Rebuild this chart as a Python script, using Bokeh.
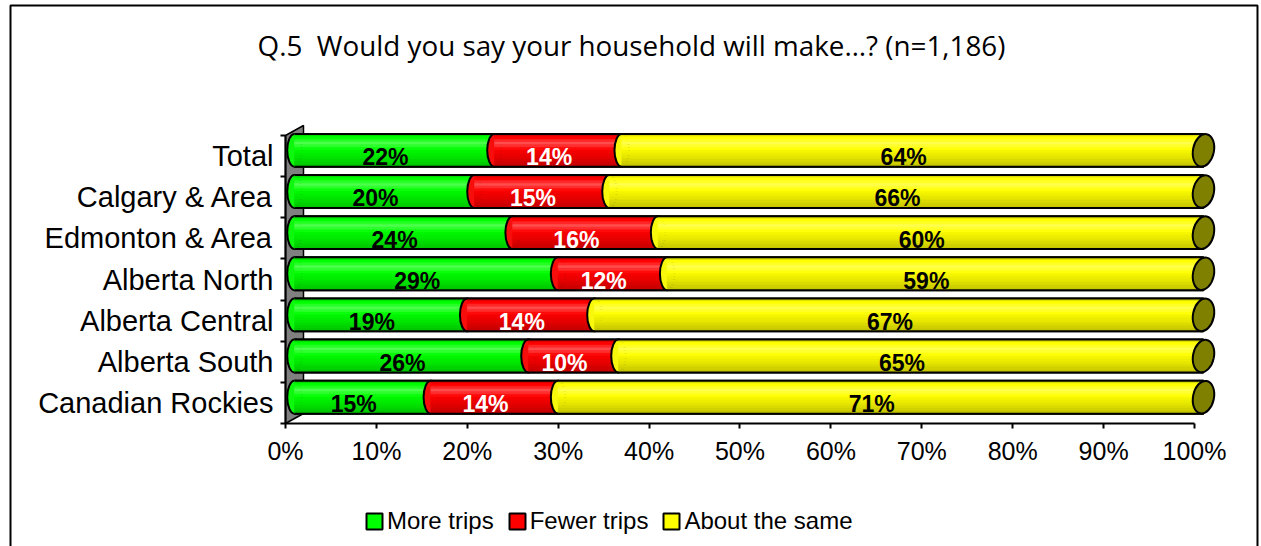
import numpy as np
from bokeh.plotting import figure
from bokeh.models import (ColumnDataSource, Range1d, FixedTicker, Legend, LegendItem,
                          Label, BoxAnnotation)
from bokeh.core.properties import value
from bokeh.embed import file_html
from bokeh.resources import INLINE

# ---------------- data ----------------
categories = ["Total", "Calgary & Area", "Edmonton & Area", "Alberta North",
              "Alberta Central", "Alberta South", "Canadian Rockies"]
more_trips = [22, 20, 24, 29, 19, 26, 15]
fewer_trips = [14, 15, 16, 12, 14, 10, 14]
about_same = [64, 66, 60, 59, 67, 65, 71]
series_names = ["More trips", "Fewer trips", "About the same"]
x_ticks = [0, 10, 20, 30, 40, 50, 60, 70, 80, 90, 100]
x_tick_labels = ["0%", "10%", "20%", "30%", "40%", "50%", "60%", "70%", "80%", "90%", "100%"]
title_text = "Q.5\u00a0 Would you say your household will make\u2026? (n=1,186)"

# ---------------- style ----------------
FONT = "Liberation Sans"
TITLE_FONT = "Open Sans"
colors = ["#00FF00", "#FF0000", "#FFFF00"]
label_colors = ["black", "white", "black"]
cap_color = "#808000"
wall_color = "#808080"

n = len(categories)
vals = np.array([more_trips, fewer_trips, about_same], dtype=float).T
share = vals / vals.sum(axis=1, keepdims=True) * 100.0
right_edges = np.cumsum(share, axis=1)
left_edges = right_edges - share
ypos = np.arange(n)[::-1] + 0.5          # Total on top

DX, DY = 1.98, 0.243                     # 3-D depth (data units)
BAR_H = 0.8
BX, BY = DX / 2, 0.14                    # bar offset inside the depth
ELL_W = 1.6

# the plot frame covers the whole canvas; axes are pinned at 0
p = figure(width=1261, height=546, output_backend="svg", toolbar_location=None,
           title=None, x_range=Range1d(-31.353, 107.371), y_range=Range1d(-2.9898, 10.282),
           min_border=0, min_border_left=0, min_border_right=0, min_border_top=0,
           min_border_bottom=0)
p.background_fill_color = "white"
p.border_fill_color = "white"
p.outline_line_color = None
p.xgrid.visible = False
p.ygrid.visible = False

# outer chart border
p.add_layout(BoxAnnotation(left=-30.253, right=106.93, top=10.16, bottom=-4.0,
                           fill_alpha=0, line_color="black", line_alpha=1.0, line_width=2))

# wall
p.patch(x=[x_ticks[0], x_ticks[0], DX, DX], y=[0, n, n + DY, DY],
        fill_color=wall_color, line_color="black", line_width=1.5)

# axis lines
p.segment(x0=[x_ticks[0]], y0=[0], x1=[x_ticks[-1]], y1=[0], line_color="black", line_width=2)
p.segment(x0=[x_ticks[0]], y0=[0], x1=[x_ticks[0]], y1=[n], line_color="black", line_width=2)


def shade(hexc, dark, white):
    r, g, b = (int(hexc[i:i + 2], 16) for i in (1, 3, 5))
    out = []
    for c in (r, g, b):
        c = c * dark
        c = c + (255 - c) * white
        out.append(int(round(min(255, c))))
    return "#%02x%02x%02x" % tuple(out)


profile = [(0.86, 0.0), (1.0, 0.0), (1.0, 0.15), (1.0, 0.3), (1.0, 0.18), (1.0, 0.04),
           (0.96, 0.0), (0.93, 0.0), (0.9, 0.0), (0.86, 0.0), (0.82, 0.0), (0.78, 0.0)]
ns = len(profile)
sh = BAR_H / ns
yc = ypos + BY

base_renderers = []
for k in range(3):
    xl = left_edges[:, k] + BX
    xr = right_edges[:, k] + BX
    # base segment (black outline, also used for the legend swatch)
    base = p.hbar(y=yc, left=xl, right=xr, height=BAR_H, fill_color=colors[k],
                  line_color="black", line_width=2)
    base_renderers.append(base)
    # rounded left end
    p.ellipse(x=xl, y=yc, width=ELL_W, height=BAR_H, fill_color=shade(colors[k], 0.97, 0.05),
              line_color="black", line_width=2)
    # cylinder shading
    for j, (d, w) in enumerate(profile):
        yy = yc + BAR_H / 2 - sh * (j + 0.5)
        col = shade(colors[k], d, w)
        p.hbar(y=yy, left=xl, right=xr, height=sh * 1.02, fill_color=col,
               line_color=col, line_width=0.5)

p.segment(x0=left_edges[:, 0] + BX, y0=yc + BAR_H / 2, x1=right_edges[:, 2] + BX,
          y1=yc + BAR_H / 2, line_color="black", line_width=2)
p.segment(x0=left_edges[:, 0] + BX, y0=yc - BAR_H / 2, x1=right_edges[:, 2] + BX,
          y1=yc - BAR_H / 2, line_color="black", line_width=2)
p.ellipse(x=right_edges[:, 2] + BX, y=yc, width=2.3, height=BAR_H, angle=-0.2,
          fill_color=cap_color, line_color="black", line_width=2)

for k in range(3):
    src = ColumnDataSource(dict(x=(left_edges[:, k] + right_edges[:, k]) / 2, y=ypos - 0.03,
                                t=["%d%%" % v for v in vals[:, k]]))
    p.text(x="x", y="y", text="t", source=src, text_align="center", text_baseline="middle",
           text_font=value(FONT), text_font_style="bold", text_font_size="23px",
           text_color=label_colors[k])

# axes (pinned at 0)
p.yaxis.fixed_location = 0
p.yaxis.ticker = FixedTicker(ticks=list(ypos), minor_ticks=list(range(n + 1)))
p.yaxis.major_label_overrides = {float(y): c for y, c in zip(ypos, categories)}
p.yaxis.axis_line_color = None
p.yaxis.major_tick_out = 0
p.yaxis.major_tick_in = 0
p.yaxis.minor_tick_out = 5
p.yaxis.minor_tick_in = 0
p.yaxis.minor_tick_line_width = 2
p.yaxis.minor_tick_line_color = "black"
p.yaxis.major_label_standoff = 7
p.yaxis.major_label_text_font = FONT
p.yaxis.major_label_text_font_size = "29px"
p.yaxis.major_label_text_color = "black"

p.xaxis.fixed_location = 0
p.xaxis.ticker = FixedTicker(ticks=x_ticks, minor_ticks=[])
p.xaxis.major_label_overrides = dict(zip(x_ticks, x_tick_labels))
p.xaxis.axis_line_color = None
p.xaxis.major_tick_out = 5
p.xaxis.major_tick_in = 0
p.xaxis.major_tick_line_width = 2
p.xaxis.major_tick_line_color = "black"
p.xaxis.major_label_standoff = 8
p.xaxis.major_label_text_font = FONT
p.xaxis.major_label_text_font_size = "25px"
p.xaxis.major_label_text_color = "black"

# title
p.add_layout(Label(x=38.06, y=9.21, text=title_text, text_align="center",
                   text_baseline="alphabetic", text_font=TITLE_FONT, text_font_size="27.8px",
                   text_color="black"))

# legend
items = [LegendItem(label=name, renderers=[r]) for name, r in zip(series_names, base_renderers)]
legend = Legend(items=items, orientation="horizontal", location=(364, 11),
                glyph_width=20, glyph_height=20, label_text_font=FONT,
                label_text_font_size="24px", label_text_color="black", spacing=13,
                label_standoff=3, padding=0, margin=0, border_line_color=None,
                background_fill_alpha=0)
p.add_layout(legend)

open("out.html", "w").write(file_html(p, INLINE))
